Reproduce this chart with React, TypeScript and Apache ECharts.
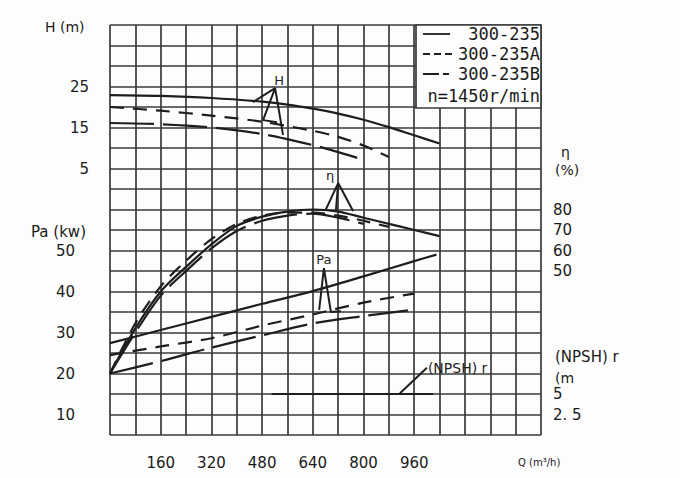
import React, { useEffect, useRef } from "react";
import * as echarts from "echarts";

// ---- tick labels ----
const qTicks = [160, 320, 480, 640, 800, 960];
const hTicks = [5, 15, 25];
const paTicks = [10, 20, 30, 40, 50];
const etaTicks = [50, 60, 70, 80];
const npshTicks = [2.5, 5];

// ---- head H (m) ----
const qHSolid = [0, 160, 320, 480, 560, 640, 720, 800, 880, 960, 1040];
const hSolid = [22.9, 22.7, 22.2, 21.3, 20.6, 19.6, 18.4, 16.9, 15.1, 13.1, 11.1];
const qHA = [0, 160, 320, 480, 640, 720, 800, 880];
const hA = [20, 19.1, 17.9, 16.4, 14.2, 12.7, 10.6, 7.8];
const qHB = [0, 160, 320, 480, 640, 720, 780];
const hB = [16.1, 15.8, 15.0, 13.4, 10.7, 9.0, 7.6];

// ---- efficiency η (%) ----
const qEtaSolid = [0, 80, 160, 240, 320, 400, 480, 560, 640, 720, 800, 880, 960, 1040];
const etaSolid = [0, 22, 40, 52, 63, 72, 76.5, 79, 80, 79, 76, 73, 70, 67];
const qEtaA = [0, 80, 160, 240, 320, 400, 480, 560, 640, 720, 800, 880];
const etaA = [0, 24.5, 42.5, 55, 65.5, 73, 77, 78.5, 78.5, 77, 74.5, 71.5];
const qEtaB = [0, 80, 160, 240, 320, 400, 480, 560, 640, 720, 800];
const etaB = [0, 20, 38, 50, 61, 69.5, 74.5, 77, 78, 76, 73];

// ---- shaft power Pa (kW) ----
const qPaSolid = [0, 160, 320, 480, 640, 800, 960, 1030];
const paSolid = [27.4, 30.6, 33.8, 37, 40.1, 43.7, 47.4, 49];
const qPaA = [0, 160, 320, 480, 640, 800, 960];
const paA = [24.5, 26.6, 28.6, 31.7, 34.4, 37.3, 39.5];
const qPaB = [0, 160, 320, 480, 640, 800, 940];
const paB = [20, 23, 26.3, 29.3, 32.2, 34.0, 35.4];

// ---- (NPSH)r (m) ----
const qNpsh = [510, 1020];
const npsh = [5, 5];

// ---- annotation leaders (data units) ----
const qHMark = [527, 483, 521, 451, 521, 546];
const hMark = [16.3, 16.8, 24.6, 21.2, 24.6, 13.2];
const qEtaMark = [679, 720, 767, 720, 713];
const etaMark = [79.3, 92.9, 79.3, 92.9, 79.8];
const qPaMark = [660, 675, 697, 729];
const paMark = [35.5, 45.7, 35, 35.2];
const qNpshMark = [915, 1000];
const npshMark = [5.1, 8.2];

const legendNames = ["300-235", "300-235A", "300-235B"];
const speedNote = "n=1450r/min";

const INK = "#1e1e1e";
const GRID = "#3a3a3a";
const FONT = "DejaVu Sans";

const zip = (xs: number[], ys: number[]) => xs.map((x, i) => [x, ys[i]]);

const DASH_A = [14, 9];
const DASH_B = [44, 9];

function curve(name: string, q: number[], v: number[], yAxisIndex: number, dash: any) {
  return {
    type: "line",
    name,
    data: zip(q, v),
    yAxisIndex,
    smooth: 0.3,
    symbol: "none",
    silent: true,
    lineStyle: { color: INK, width: 2.2, type: dash },
    z: 3,
  };
}

function marker(q: number[], v: number[], yAxisIndex: number, labelIdx: number, text: string, label: any) {
  return {
    type: "line",
    data: q.map((x, i) =>
      i === labelIdx
        ? {
            value: [x, v[i]],
            label: {
              show: true,
              formatter: text,
              color: INK,
              fontFamily: FONT,
              fontSize: 13,
              ...label,
            },
          }
        : { value: [x, v[i]] }
    ),
    yAxisIndex,
    symbol: "circle",
    symbolSize: 0,
    showSymbol: true,
    silent: true,
    lineStyle: { color: INK, width: 2 },
    z: 4,
  };
}

const tickFmt = (list: number[], map?: (v: number) => string) => (v: number) =>
  list.some((t) => Math.abs(t - v) < 1e-9) ? (map ? map(v) : String(v)) : "";

const labelStyle = { color: "#1a1a1a", fontFamily: FONT, fontSize: 15 };

function buildOption() {
  const txt = (text: string, x: number, y: number, size: number, extra: any = {}) => ({
    type: "text",
    x,
    y,
    z: 10,
    style: {
      text,
      fill: "#1a1a1a",
      font: `${size}px "${FONT}"`,
      verticalAlign: "middle",
      ...extra,
    },
  });
  const legRows = [34, 54, 74, 96];
  return {
    animation: false,
    backgroundColor: "#fdfdfd",
    grid: { left: 110, right: 139, top: 25, bottom: 43, containLabel: false },
    xAxis: {
      type: "value",
      min: 0,
      max: 1360,
      interval: 80,
      axisLine: { show: false },
      axisTick: { show: false },
      splitLine: { show: true, lineStyle: { color: GRID, width: 1.7 } },
      axisLabel: { ...labelStyle, margin: 20, formatter: tickFmt(qTicks) },
    },
    yAxis: [
      {
        type: "value",
        position: "left",
        min: -60,
        max: 40,
        interval: 5,
        axisLine: { show: false },
        axisTick: { show: false },
        splitLine: { show: true, lineStyle: { color: GRID, width: 1.7 } },
        axisLabel: { ...labelStyle, margin: 21, formatter: tickFmt(hTicks) },
      },
      {
        type: "value",
        position: "left",
        min: 5,
        max: 105,
        interval: 5,
        axisLine: { show: false },
        axisTick: { show: false },
        splitLine: { show: false },
        axisLabel: { ...labelStyle, margin: 35, formatter: tickFmt(paTicks) },
      },
      {
        type: "value",
        position: "right",
        min: -30,
        max: 170,
        interval: 10,
        axisLine: { show: false },
        axisTick: { show: false },
        splitLine: { show: false },
        axisLabel: { ...labelStyle, margin: 12, formatter: tickFmt(etaTicks) },
      },
      {
        type: "value",
        position: "right",
        min: 0,
        max: 50,
        interval: 2.5,
        axisLine: { show: false },
        axisTick: { show: false },
        splitLine: { show: false },
        axisLabel: {
          ...labelStyle,
          margin: 12,
          formatter: tickFmt(npshTicks, (v) => (v === 2.5 ? "2. 5" : String(v))),
        },
      },
    ],
    series: [
      curve(legendNames[0], qHSolid, hSolid, 0, "solid"),
      curve(legendNames[1], qHA, hA, 0, DASH_A),
      curve(legendNames[2], qHB, hB, 0, DASH_B),
      curve(legendNames[0], qEtaSolid, etaSolid, 2, "solid"),
      curve(legendNames[1], qEtaA, etaA, 2, DASH_A),
      curve(legendNames[2], qEtaB, etaB, 2, DASH_B),
      curve(legendNames[0], qPaSolid, paSolid, 1, "solid"),
      curve(legendNames[1], qPaA, paA, 1, DASH_A),
      curve(legendNames[2], qPaB, paB, 1, DASH_B),
      curve("(NPSH)r", qNpsh, npsh, 3, "solid"),
      marker(qHMark, hMark, 0, 2, "H", { position: "top", distance: 1, offset: [4, 0] }),
      marker(qEtaMark, etaMark, 2, 1, "η", { position: "top", distance: 1, offset: [-8, 0] }),
      marker(qPaMark, paMark, 1, 1, "Pa", { position: "top", distance: 2, offset: [0, 0] }),
      marker(qNpshMark, npshMark, 3, 1, "(NPSH) r", { position: "right", distance: 1, fontSize: 14 }),
    ],
    graphic: [
      txt("H (m)", 45, 27, 14),
      txt("Pa (kw)", 31, 232, 15),
      txt("η", 561, 152, 14),
      txt("(%)", 555, 170, 14),
      txt("(NPSH) r", 555, 357, 15),
      txt("(m", 555, 378, 14),
      txt("Q (m³/h)", 518, 462, 10),
      {
        type: "group",
        z: 20,
        children: [
          {
            type: "rect",
            z: 20,
            shape: { x: 416, y: 25, width: 125, height: 83 },
            style: { fill: "#fdfdfd", stroke: GRID, lineWidth: 1.7 },
          },
          {
            type: "line",
            z: 21,
            shape: { x1: 423, y1: legRows[0], x2: 450, y2: legRows[0] },
            style: { stroke: INK, lineWidth: 1.8 },
          },
          {
            type: "line",
            z: 21,
            shape: { x1: 423, y1: legRows[1], x2: 452, y2: legRows[1] },
            style: { stroke: INK, lineWidth: 1.8, lineDash: [7, 4] },
          },
          {
            type: "line",
            z: 21,
            shape: { x1: 423, y1: legRows[2], x2: 452, y2: legRows[2] },
            style: { stroke: INK, lineWidth: 1.8, lineDash: [16, 4, 6, 4] },
          },
          ...legendNames.map((n, i) => ({
            type: "text",
            z: 21,
            x: 540,
            y: legRows[i],
            style: {
              text: n,
              fill: "#1a1a1a",
              font: `17px "DejaVu Sans Mono"`,
              align: "right",
              verticalAlign: "middle",
            },
          })),
          {
            type: "text",
            z: 21,
            x: 540,
            y: legRows[3],
            style: {
              text: speedNote,
              fill: "#1a1a1a",
              font: `17px "DejaVu Sans Mono"`,
              align: "right",
              verticalAlign: "middle",
            },
          },
        ],
      },
    ],
  };
}

export default function App() {
  const ref = useRef<HTMLDivElement>(null);
  useEffect(() => {
    if (!ref.current) return;
    const chart = echarts.init(ref.current, null, { renderer: "svg" });
    chart.setOption(buildOption() as any);
    return () => chart.dispose();
  }, []);
  return (
    <div
      ref={ref}
      style={{ position: "absolute", left: 0, top: 0, width: 680, height: 478 }}
    />
  );
}
